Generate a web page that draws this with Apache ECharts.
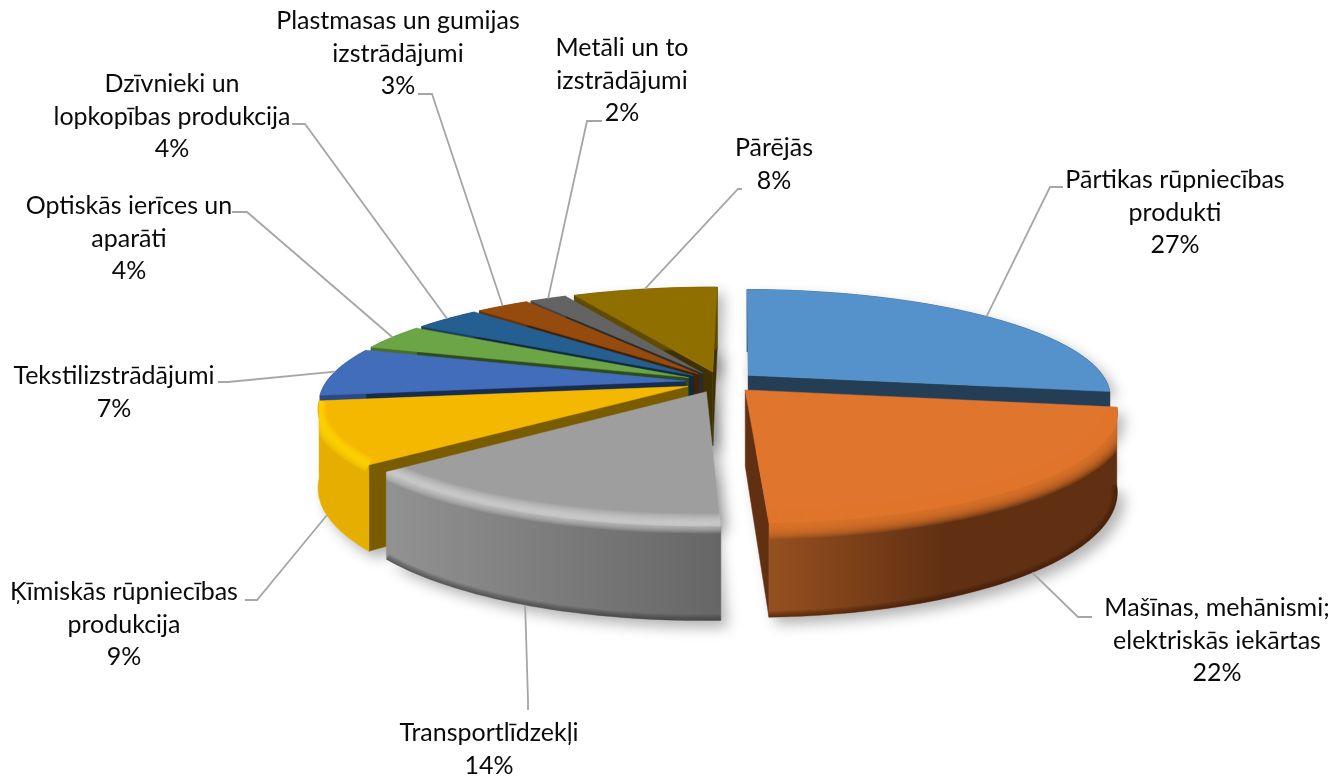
<!DOCTYPE html>
<html>
<head>
<meta charset="utf-8">
<title>Eksporta struktura</title>
<script src="https://cdn.jsdelivr.net/npm/echarts@6/dist/echarts.min.js"></script>
<style>
  html, body { margin: 0; padding: 0; background: #fff; }
  #container { width: 1341px; height: 776px; }
</style>
</head>
<body>
<div id="container"></div>
<script>
// data
const categories = [
  'Pārtikas rūpniecības\nprodukti',
  'Mašīnas, mehānismi;\nelektriskās iekārtas',
  'Transportlīdzekļi',
  'Ķīmiskās rūpniecības\nprodukcija',
  'Tekstilizstrādājumi',
  'Optiskās ierīces un\naparāti',
  'Dzīvnieki un\nlopkopības produkcija',
  'Plastmasas un gumijas\nizstrādājumi',
  'Metāli un to\nizstrādājumi',
  'Pārējās'
];
const shares = [27.3, 21.9, 14.4, 9.1, 7.2, 3.8, 3.6, 2.9, 2.0, 7.8];

// slice colours
const topColors = ['#5592CB', '#E0752D', '#9E9E9E', '#F5B800', '#426DBB', '#6BA545', '#255E91', '#964B0E', '#636363', '#8E6F00'];
const faceColors = ['#233E55', '#613013', '#4A4A4A', '#7A5C00', '#182C50', '#2F4A1E', '#10293F', '#3F2106', '#2B2B2B', '#3F3100'];
const wallColors = [
  '#233E55',
  ['#96501F', '#613013', '#613013'],
  ['#929292', '#7C7C7C', '#666666'],
  '#E5AE00',
  '#2A4A85', '#476E2D', '#193F61', '#64320A', '#424242', '#5F4A00'
];
// highlight along the outer top edge: colour, offset, widest stroke, opacity of each layer
const bevels = {
  1: ['#E0752D', 1, 30, 0.16],
  2: ['#D8D8D8', -2, 20, 0.13],
  3: ['#FFD800', 0, 16, 0.2]
};
const footShades = { 1: '#3A1A08', 2: '#2E2E2E' };

// label layout: centre of the text block and the two leader points beside it
const labelCenters = [[1175, 180], [1217, 608], [489, 733], [124, 592], [114, 376], [129, 206], [172, 84], [398, 21], [622, 48], [774, 148]];
const leaderElbows = [
  [[1063, 187], [1050, 187]],
  [[1092, 617], [1078, 617]],
  [[528, 710], [528, 700]],
  [[245, 600], [257, 600]],
  [[218, 382], [228, 382]],
  [[232, 212], [247, 212]],
  [[292, 124], [305, 124]],
  [[418, 94], [432, 94]],
  [[602, 121], [587, 121]],
  [[742, 189], [738, 189]]
];

// pie projection, fitted to the picture
const cx = 721, cy = 382, rx = 359, ry = 104.5;
const persp = 0.19, explode = 0.1, depth = 75;
const startAngle = 0.6 * Math.PI / 180;
const total = shares.reduce(function (a, b) { return a + b; }, 0);

function project(X, Y, h) {
  let s = 1 / (1 + persp * Y);
  return [cx + rx * X * s, cy - ry * Y * s + (h || 0) * s];
}

// angles in radians, clockwise from the top
let acc = 0;
const slices = shares.map(function (v, i) {
  let a0 = startAngle + acc / total * Math.PI * 2;
  acc += v;
  let a1 = startAngle + acc / total * Math.PI * 2;
  let mid = (a0 + a1) / 2;
  return { index: i, a0: a0, a1: a1, mid: mid, ox: explode * Math.sin(mid), oy: explode * Math.cos(mid) };
});

function arcPoints(sl, h) {
  let pts = [];
  let n = Math.max(6, Math.ceil((sl.a1 - sl.a0) * 40));
  for (let k = 0; k <= n; k++) {
    let a = sl.a0 + (sl.a1 - sl.a0) * k / n;
    pts.push(project(sl.ox + Math.sin(a), sl.oy + Math.cos(a), h));
  }
  return pts;
}

function band(sl, h0, h1) {
  return arcPoints(sl, h0).concat(arcPoints(sl, h1).reverse());
}

// outline of top and wall together, keeps the highlights inside the slice
function silhouette(sl) {
  let foot = arcPoints(sl, depth);
  let top = arcPoints(sl, 0);
  return [project(sl.ox, sl.oy, 0), top[0]].concat(foot, [top[top.length - 1]]);
}

function radialFace(sl, a) {
  let ax = sl.ox + Math.sin(a), ay = sl.oy + Math.cos(a);
  return [project(sl.ox, sl.oy, 0), project(ax, ay, 0), project(ax, ay, depth), project(sl.ox, sl.oy, depth)];
}

function signedArea(pts) {
  let sum = 0;
  for (let i = 0; i < pts.length; i++) {
    let p = pts[i], q = pts[(i + 1) % pts.length];
    sum += p[0] * q[1] - q[0] * p[1];
  }
  return sum;
}

function wallFill(i) {
  let c = wallColors[i];
  if (typeof c === 'string') return c;
  return {
    type: 'linear', x: 0, y: 0, x2: 1, y2: 0,
    colorStops: [{ offset: 0, color: c[0] }, { offset: 0.5, color: c[1] }, { offset: 1, color: c[2] }]
  };
}

function poly(points, fill) {
  return {
    type: 'polygon',
    shape: { points: points },
    style: { fill: fill, stroke: fill, lineWidth: 0.5 }
  };
}

// stacked strokes, clipped to the slice, read as a soft gradient across the line
function softEdge(sl, points, color, maxWidth, opacity) {
  let lines = [];
  for (let w = maxWidth; w > 0; w -= 2) {
    lines.push({
      type: 'polyline',
      shape: { points: points },
      style: { fill: null, stroke: color, lineWidth: w, opacity: opacity }
    });
  }
  return {
    type: 'group',
    clipPath: { type: 'polygon', shape: { points: silhouette(sl) } },
    children: lines
  };
}

function renderShadow(params, api) {
  let sl = slices[api.value(0)];
  let foot = [project(sl.ox, sl.oy, depth)].concat(arcPoints(sl, depth));
  let top = [project(sl.ox, sl.oy, 0)].concat(arcPoints(sl, 0));
  let st = { fill: '#fff', shadowBlur: 14, shadowColor: 'rgba(0,0,0,0.3)', shadowOffsetX: 7, shadowOffsetY: 7 };
  return {
    type: 'group',
    children: [
      { type: 'polygon', shape: { points: foot }, style: st },
      { type: 'polygon', shape: { points: top }, style: st }
    ]
  };
}

function renderSlice(params, api) {
  let sl = slices[api.value(0)];
  let i = sl.index;
  let children = [];
  // only the cut faces turned towards the viewer
  let startFace = radialFace(sl, sl.a0), endFace = radialFace(sl, sl.a1);
  if (signedArea(startFace) < -200) children.push(poly(startFace, faceColors[i]));
  if (signedArea(endFace) > 200) children.push(poly(endFace, faceColors[i]));
  children.push(poly(band(sl, 0, depth), wallFill(i)));
  if (footShades[i]) {
    children.push(softEdge(sl, arcPoints(sl, depth), footShades[i], 12, 0.12));
  }
  children.push(poly([project(sl.ox, sl.oy, 0)].concat(arcPoints(sl, 0)), topColors[i]));

  if (bevels[i]) {
    let b = bevels[i];
    children.push(softEdge(sl, arcPoints(sl, b[1]), b[0], b[2], b[3]));
  }
  return { type: 'group', children: children };
}

function renderLeader(params, api) {
  let sl = slices[api.value(0)];
  let X = sl.ox + Math.sin(sl.mid), Y = sl.oy + Math.cos(sl.mid);
  // front slices hook onto the foot of the wall
  let end = project(X, Y, Y < -0.3 ? depth : 0);
  let el = leaderElbows[sl.index];
  return {
    type: 'polyline',
    shape: { points: [el[0], el[1], end] },
    style: { fill: null, stroke: '#A6A6A6', lineWidth: 1.8 }
  };
}

function renderLabel(params, api) {
  let i = api.value(0);
  let c = labelCenters[i];
  return {
    type: 'text',
    style: {
      text: categories[i] + '\n' + Math.round(shares[i]) + '%',
      x: c[0], y: c[1] - 16,
      align: 'center', verticalAlign: 'top',
      font: '25px Lato', lineHeight: 32.5, fill: '#0A0A0A'
    }
  };
}

// back slices first so the front ones paint over them
const paintOrder = slices.slice().sort(function (a, b) { return b.oy - a.oy; }).map(function (s) { return [s.index]; });
const allIdx = slices.map(function (s) { return [s.index]; });

const option = {
  backgroundColor: '#fff',
  animation: false,
  series: [
    { type: 'custom', coordinateSystem: 'none', silent: true, z: 1, clip: false, data: allIdx, renderItem: renderShadow },
    { type: 'custom', coordinateSystem: 'none', silent: true, z: 2, clip: false, data: paintOrder, renderItem: renderSlice },
    { type: 'custom', coordinateSystem: 'none', silent: true, z: 3, clip: false, data: allIdx, renderItem: renderLeader },
    { type: 'custom', coordinateSystem: 'none', silent: true, z: 4, clip: false, data: allIdx, renderItem: renderLabel }
  ]
};

const chart = echarts.init(document.getElementById('container'));
chart.setOption(option);
</script>
</body>
</html>
